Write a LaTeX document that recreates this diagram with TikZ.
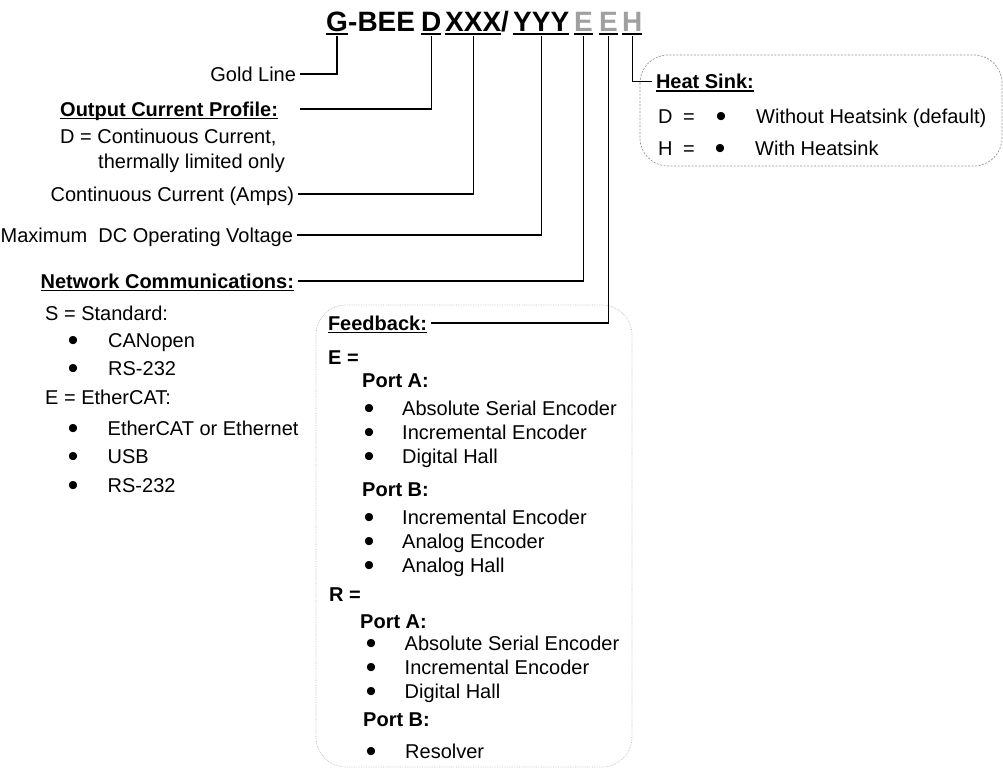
\documentclass[tikz,border=0pt]{standalone}
\usepackage{fontspec}
\setmainfont{Liberation Sans}
\usepackage{tikz}
\usetikzlibrary{positioning,calc}
\definecolor{codegray}{RGB}{160,160,160}
\definecolor{heatline}{RGB}{150,150,150}
\definecolor{fbline}{RGB}{190,190,190}

\newsavebox\ulsave
\newcommand\codeul[1]{\sbox\ulsave{#1}\rlap{\color{black}\rule[-3.5pt]{\wd\ulsave}{2pt}}\usebox\ulsave}
\newcommand\headul[1]{\sbox\ulsave{#1}\rlap{\rule[-3pt]{\wd\ulsave}{1.5pt}}\usebox\ulsave}
\newcommand\bitem[2][38pt]{\makebox[#1][l]{\raisebox{-3.5pt}{\fontsize{30}{30}\selectfont\textbullet}}#2}

\begin{document}
\begin{tikzpicture}[
    x=1pt,y=-1pt,
    code/.style={font=\fontsize{28}{30}\selectfont\bfseries,inner sep=0pt,text depth=3.5pt,anchor=base west},
    lbl/.style={font=\fontsize{20}{24}\selectfont,inner sep=0pt,text height=14.5pt,text depth=0pt},
    head/.style={lbl,font=\fontsize{20}{24}\selectfont\bfseries},
    link/.style={outer xsep=4pt},
    wire/.style={line width=1.3pt},
]
\useasboundingbox (0,0) rectangle (1003,768);

% Part number
\node[code] (codeG) at (326,32) {\codeul{G}};
\node[code] (codeBEE) at (348,32) {-BEE};
\node[code] (codeD) at (421,32) {\codeul{D}};
\node[code] (codeX) at (445,32) {\codeul{XXX}};
\node[code] (codeSlash) at (501,32) {/};
\node[code] (codeY) at (513,32) {\codeul{YYY}};
\node[code,text=codegray] (codeN) at (574,32) {\codeul{E}};
\node[code,text=codegray] (codeF) at (599,32) {\codeul{E}};
\node[code,text=codegray] (codeH) at (622,32) {\codeul{H}};

% Left column
\node[lbl,link,anchor=east] (gold) at (300,74) {Gold Line};
\node[head,anchor=west] (ocp) at (60,109) {\headul{Output Current Profile:}};
\coordinate (ocpEnd) at (300,109);
\node[lbl,anchor=west] (ocpD) at (60,136.5) {D = Continuous Current,};
\node[lbl,anchor=west] (ocpD2) at (98,161) {thermally limited only};
\node[lbl,link,anchor=east] (amps) at (298,194) {Continuous Current (Amps)};
\node[lbl,link,anchor=east] (volt) at (297,235) {Maximum\ \ DC Operating Voltage};
\node[head,link,anchor=east] (net) at (298,281) {\headul{Network Communications:}};

% Network options
\node[lbl,anchor=west] (netS) at (45,313) {S = Standard:};
\node[lbl,anchor=west] (netS1) at (67.75,340) {\bitem[40.25pt]{CANopen}};
\node[lbl,anchor=west] (netS2) at (67.75,368) {\bitem[40.25pt]{RS-232}};
\node[lbl,anchor=west] (netE) at (45,397) {E = EtherCAT:};
\node[lbl,anchor=west] (netE1) at (67.75,428) {\bitem[39.75pt]{EtherCAT or Ethernet}};
\node[lbl,anchor=west] (netE2) at (67.75,456) {\bitem[39.75pt]{USB}};
\node[lbl,anchor=west] (netE3) at (67.75,485) {\bitem[39.75pt]{RS-232}};

% Heat sink box
\draw[heatline,line width=0.7pt,dash pattern=on 2pt off 1.5pt,rounded corners=28] (640,55) rectangle (1002,166);
\node[head,link,anchor=west] (heat) at (652,81.5) {\headul{Heat Sink:}};
\node[lbl,anchor=west] (heatD) at (658,116) {D\hskip10.6pt=\hskip21pt\bitem[40.25pt]{Without Heatsink (default)}};
\node[lbl,anchor=west] (heatH) at (658,148) {H\hskip10.6pt=\hskip20pt\bitem[40.25pt]{With Heatsink}};

% Feedback box
\draw[fbline,line width=0.7pt,densely dotted,rounded corners=30] (316,305) rectangle (632,767);
\node[head,link,anchor=west] (feedback) at (324,323) {\headul{Feedback:}};
\node[head,anchor=west] (fbE) at (328,357) {E =};
\node[head,anchor=west] (fbEA) at (362,380) {Port A:};
\node[lbl,anchor=west] (fbEA1) at (363.75,408) {\bitem[38.25pt]{Absolute Serial Encoder}};
\node[lbl,anchor=west] (fbEA2) at (363.75,432) {\bitem[38.25pt]{Incremental Encoder}};
\node[lbl,anchor=west] (fbEA3) at (363.75,456) {\bitem[38.25pt]{Digital Hall}};
\node[head,anchor=west] (fbEB) at (362,489) {Port B:};
\node[lbl,anchor=west] (fbEB1) at (363.75,517) {\bitem[38.25pt]{Incremental Encoder}};
\node[lbl,anchor=west] (fbEB2) at (363.75,541) {\bitem[38.25pt]{Analog Encoder}};
\node[lbl,anchor=west] (fbEB3) at (363.75,565) {\bitem[38.25pt]{Analog Hall}};
\node[head,anchor=west] (fbR) at (329,594) {R =};
\node[head,anchor=west] (fbRA) at (360,621) {Port A:};
\node[lbl,anchor=west] (fbRA1) at (365.75,643) {\bitem[38.75pt]{Absolute Serial Encoder}};
\node[lbl,anchor=west] (fbRA2) at (365.75,667) {\bitem[38.75pt]{Incremental Encoder}};
\node[lbl,anchor=west] (fbRA3) at (365.75,691) {\bitem[38.75pt]{Digital Hall}};
\node[head,anchor=west] (fbRB) at (363,719) {Port B:};
\node[lbl,anchor=west] (fbRB1) at (365.75,751) {\bitem[39.25pt]{Resolver}};

% Connections
\draw[wire] (codeG.south) |- (gold.east);
\draw[wire] (codeD.south) |- (ocpEnd);
\draw[wire] (codeX.south) |- (amps.east);
\draw[wire] (codeY.south) |- (volt.east);
\draw[wire] (codeN.south) |- (net.east);
\draw[wire] (codeF.south) |- (feedback.east);
\draw[wire] (codeH.south) |- (heat.west);

\end{tikzpicture}
\end{document}
